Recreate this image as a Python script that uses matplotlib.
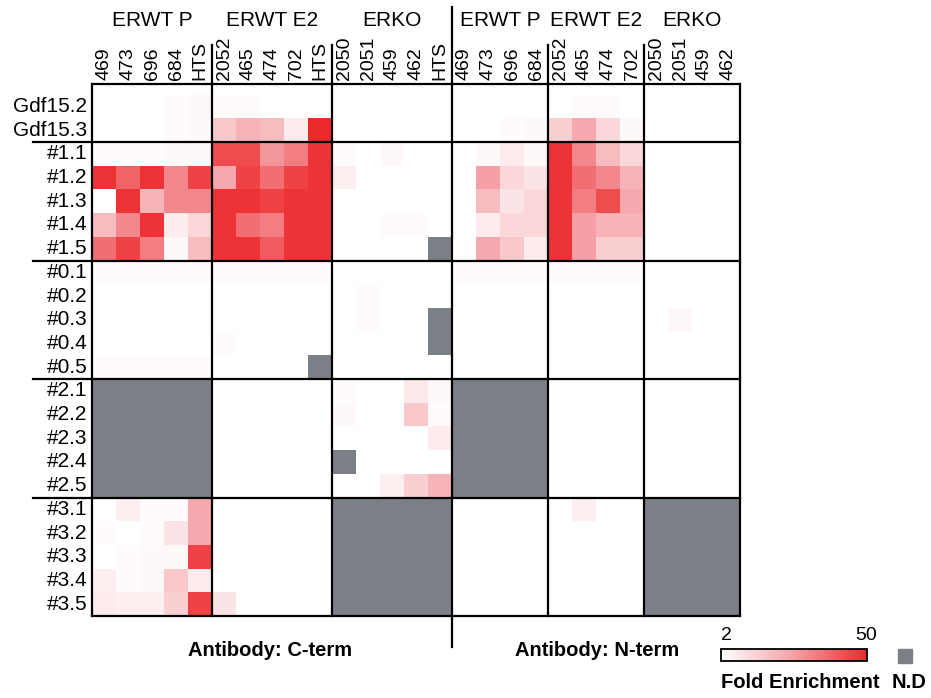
import numpy as np
import matplotlib
matplotlib.use("Agg")
import matplotlib.pyplot as plt
from matplotlib.colors import LinearSegmentedColormap
from matplotlib.patches import Rectangle

plt.rcParams['font.family'] = ['Liberation Sans', 'DejaVu Sans']

nd = np.nan  # not determined

row_labels = ['Gdf15.2', 'Gdf15.3',
              '#1.1', '#1.2', '#1.3', '#1.4', '#1.5',
              '#0.1', '#0.2', '#0.3', '#0.4', '#0.5',
              '#2.1', '#2.2', '#2.3', '#2.4', '#2.5',
              '#3.1', '#3.2', '#3.3', '#3.4', '#3.5']

groups = ['ERWT P', 'ERWT E2', 'ERKO', 'ERWT P', 'ERWT E2', 'ERKO']
c_cols = ['469', '473', '696', '684', 'HTS',
          '2052', '465', '474', '702', 'HTS',
          '2050', '2051', '459', '462', 'HTS']
n_cols = ['469', '473', '696', '684',
          '2052', '465', '474', '702',
          '2050', '2051', '459', '462']

# fold enrichment, antibody C-term
c_term = [
    [2, 2, 2, 3, 4,      3, 3, 2, 2, 2,        2, 2, 2, 2, 2],
    [2, 2, 2, 3, 4,      16, 21, 19, 7, 50,    2, 2, 2, 2, 2],
    [3, 3, 3, 4, 4,      43, 43, 28, 33, 48,   3, 2, 4, 2, 2],
    [48, 38, 48, 31, 45, 24, 45, 36, 45, 48,   6, 2, 2, 2, 2],
    [2, 48, 21, 31, 31,  48, 48, 45, 48, 48,   2, 2, 2, 2, 2],
    [19, 31, 48, 7, 12,  48, 36, 33, 48, 48,   2, 2, 3, 3, 2],
    [36, 45, 33, 4, 19,  48, 48, 40, 48, 48,   2, 2, 2, 2, nd],
    [3, 3, 3, 3, 3,      3, 3, 3, 3, 3,        2, 2, 2, 2, 2],
    [2, 2, 2, 2, 2,      2, 2, 2, 2, 2,        2, 3, 2, 2, 2],
    [2, 2, 2, 2, 2,      2, 2, 2, 2, 2,        2, 3, 2, 2, nd],
    [2, 2, 2, 2, 2,      3, 2, 2, 2, 2,        2, 2, 2, 2, nd],
    [3, 3, 3, 3, 3,      2, 2, 2, 2, nd,       2, 2, 2, 2, 2],
    [nd, nd, nd, nd, nd, 2, 2, 2, 2, 2,        3, 2, 2, 8, 4],
    [nd, nd, nd, nd, nd, 2, 2, 2, 2, 2,        4, 2, 2, 16, 3],
    [nd, nd, nd, nd, nd, 2, 2, 2, 2, 2,        2, 2, 2, 2, 7],
    [nd, nd, nd, nd, nd, 2, 2, 2, 2, 2,        nd, 2, 2, 2, 2],
    [nd, nd, nd, nd, nd, 2, 2, 2, 2, 2,        2, 2, 6, 14, 21],
    [2, 6, 3, 3, 24,     2, 2, 2, 2, 2,        nd, nd, nd, nd, nd],
    [3, 2, 3, 9, 24,     2, 2, 2, 2, 2,        nd, nd, nd, nd, nd],
    [2, 3, 4, 4, 45,     2, 2, 2, 2, 2,        nd, nd, nd, nd, nd],
    [6, 3, 4, 16, 7,     2, 2, 2, 2, 2,        nd, nd, nd, nd, nd],
    [7, 6, 6, 14, 45,    9, 2, 2, 2, 2,        nd, nd, nd, nd, nd],
]

# fold enrichment, antibody N-term
n_term = [
    [2, 2, 2, 2,     2, 3, 3, 2,      2, 2, 2, 2],
    [2, 2, 3, 4,     14, 24, 12, 4,   2, 2, 2, 2],
    [2, 4, 7, 4,     48, 31, 19, 12,  2, 2, 2, 2],
    [2, 26, 12, 9,   48, 36, 31, 21,  2, 2, 2, 2],
    [2, 19, 9, 12,   48, 33, 43, 24,  2, 2, 2, 2],
    [2, 7, 12, 12,   48, 26, 21, 21,  2, 2, 2, 2],
    [2, 24, 16, 7,   48, 26, 14, 14,  2, 2, 2, 2],
    [3, 3, 3, 3,     3, 3, 3, 3,      2, 2, 2, 2],
    [2, 2, 2, 2,     2, 2, 2, 2,      2, 2, 2, 2],
    [2, 2, 2, 2,     2, 2, 2, 2,      2, 4, 2, 2],
    [2, 2, 2, 2,     2, 2, 2, 2,      2, 2, 2, 2],
    [2, 2, 2, 2,     2, 2, 2, 2,      2, 2, 2, 2],
    [nd, nd, nd, nd, 2, 2, 2, 2,      2, 2, 2, 2],
    [nd, nd, nd, nd, 2, 2, 2, 2,      2, 2, 2, 2],
    [nd, nd, nd, nd, 2, 2, 2, 2,      2, 2, 2, 2],
    [nd, nd, nd, nd, 2, 2, 2, 2,      2, 2, 2, 2],
    [nd, nd, nd, nd, 2, 2, 2, 2,      2, 2, 2, 2],
    [2, 2, 2, 2,     2, 6, 2, 2,      nd, nd, nd, nd],
    [2, 2, 2, 2,     2, 2, 2, 2,      nd, nd, nd, nd],
    [2, 2, 2, 2,     2, 2, 2, 2,      nd, nd, nd, nd],
    [2, 2, 2, 2,     2, 2, 2, 2,      nd, nd, nd, nd],
    [2, 2, 2, 2,     2, 2, 2, 2,      nd, nd, nd, nd],
]

W, H = 931, 698
def fx(x):
    return x / W
def fy(y):
    return 1 - y / H

data = np.hstack([np.array(c_term, float), np.array(n_term, float)])
col_labels = c_cols + n_cols
nrow, ncol = data.shape

cmap = LinearSegmentedColormap.from_list('fold', ['#ffffff', '#f4a0a6', '#ec2a2c'])
cmap.set_bad('#7b7f86')

fig = plt.figure(figsize=(W / 100, H / 100), dpi=100)
ax = fig.add_axes([fx(92), fy(616), (740 - 92) / W, (616 - 84) / H])

mesh = ax.pcolormesh(np.arange(ncol + 1), np.arange(nrow + 1),
                     np.ma.masked_invalid(data), cmap=cmap, vmin=2, vmax=50)
top = -0.45
ax.set_xlim(0, ncol)
ax.set_ylim(nrow, top)
ax.axis('off')

lw = 1.6
# group boxes
col_bounds = [0, 5, 10, 15, 19, 23, 27]
row_bounds = [2, 7, 12, 17]
ax.plot([0, ncol], [top, top], color='k', lw=lw, clip_on=False)
ax.plot([0, ncol], [nrow, nrow], color='k', lw=lw, clip_on=False)
for r in row_bounds:
    ax.plot([-2.45, ncol], [r, r], color='k', lw=lw, clip_on=False)
for c in col_bounds:
    if c in (0, ncol):
        ax.plot([c, c], [top, nrow], color='k', lw=lw, clip_on=False)
    elif c == 15:
        ax.plot([c, c], [-3.7, nrow + 1.3], color='k', lw=lw, clip_on=False)
    else:
        ax.plot([c, c], [-2.1, nrow], color='k', lw=lw, clip_on=False)

# row and column labels
for i, lab in enumerate(row_labels):
    ax.text(-0.2, i + 0.5, lab, ha='right', va='center', fontsize=15)
for j, lab in enumerate(col_labels):
    ax.text(j + 0.5, -0.62, lab, rotation=90, ha='center', va='bottom', fontsize=14)
for g, name in enumerate(groups):
    mid = (col_bounds[g] + col_bounds[g + 1]) / 2
    ax.text(mid, -3.15, name, ha='center', va='center', fontsize=15)

fig.text(fx(270), fy(650), 'Antibody: C-term', ha='center', va='center',
         fontsize=14.5, fontweight='bold')
fig.text(fx(597), fy(650), 'Antibody: N-term', ha='center', va='center',
         fontsize=14.5, fontweight='bold')

# colour scale and N.D key
cax = fig.add_axes([fx(721), fy(661), 146 / W, 12 / H])
cb = fig.colorbar(mesh, cax=cax, orientation='horizontal')
cb.set_ticks([])
cb.outline.set_linewidth(1.3)
fig.text(fx(721), fy(636), '2', ha='left', va='center', fontsize=14)
fig.text(fx(866), fy(636), '50', ha='center', va='center', fontsize=14)
fig.text(fx(800), fy(682), 'Fold Enrichment', ha='center', va='center',
         fontsize=14.5, fontweight='bold')
fig.add_artist(Rectangle((fx(898), fy(663)), 14 / W, 14 / H,
                         transform=fig.transFigure, color='#7b7f86'))
fig.text(fx(909), fy(682), 'N.D', ha='center', va='center',
         fontsize=14.5, fontweight='bold')

fig.savefig('out.png', dpi=100)
